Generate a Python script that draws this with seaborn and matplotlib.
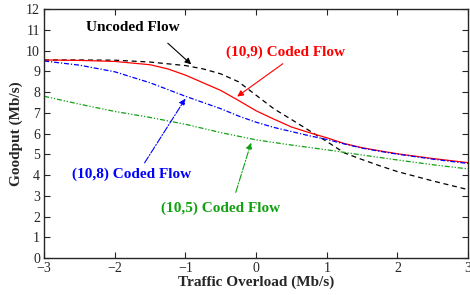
import numpy as np
import pandas as pd
import matplotlib
matplotlib.use("Agg")
import matplotlib.pyplot as plt
import seaborn as sns

# Data
x_unc = [-3, -2.5, -2, -1.5, -1, -0.75, -0.5, -0.25, 0, 0.25, 0.5, 0.75, 1.0, 1.25, 1.5, 1.75, 2.0, 2.5, 3.0]
y_unc = [9.55, 9.55, 9.54, 9.45, 9.28, 9.12, 8.88, 8.5, 7.85, 7.2, 6.68, 6.15, 5.62, 5.07, 4.75, 4.45, 4.17, 3.72, 3.3]

x_c109 = [-3, -2.5, -2, -1.5, -1.25, -1, -0.75, -0.5, -0.25, 0, 0.25, 0.5, 0.75, 1.0, 1.25, 1.5, 1.75, 2.0, 2.5, 3.0]
y_c109 = [9.55, 9.53, 9.48, 9.32, 9.12, 8.82, 8.45, 8.08, 7.6, 7.1, 6.7, 6.32, 6.05, 5.8, 5.52, 5.32, 5.17, 5.03, 4.8, 4.6]

x_c108 = [-3, -2.5, -2, -1.5, -1, -0.5, -0.25, 0, 0.25, 0.5, 0.75, 1.0, 1.25, 1.5, 1.75, 2.0, 2.5, 3.0]
y_c108 = [9.5, 9.3, 8.98, 8.45, 7.8, 7.2, 6.85, 6.55, 6.3, 6.1, 5.9, 5.72, 5.5, 5.3, 5.15, 5.01, 4.77, 4.56]

x_c105 = [-3, -2.5, -2, -1.5, -1, -0.5, 0, 0.5, 1.0, 1.5, 2.0, 2.5, 3.0]
y_c105 = [7.8, 7.42, 7.07, 6.78, 6.45, 6.05, 5.7, 5.45, 5.22, 4.97, 4.73, 4.5, 4.3]

x_ticks = [-3, -2, -1, 0, 1, 2, 3]
y_ticks = list(range(0, 13))

sns.set_style("ticks")
plt.rcParams['font.family'] = ['Liberation Serif', 'DejaVu Serif']

fig = plt.figure(figsize=(4.7, 2.95), dpi=100)
ax = fig.add_axes([0.094, 0.125, 0.902, 0.844])

sns.lineplot(x=x_unc, y=y_unc, ax=ax, color='black', lw=0.9, linestyle=(0, (4, 3)))
sns.lineplot(x=x_c109, y=y_c109, ax=ax, color='red', lw=0.9)
sns.lineplot(x=x_c108, y=y_c108, ax=ax, color='blue', lw=0.9, linestyle=(0, (4, 1.5, 1, 1.5)))
sns.lineplot(x=x_c105, y=y_c105, ax=ax, color='#10a010', lw=0.9, linestyle=(0, (4, 1.5, 1, 1.5, 1, 1.5)))

ax.set_xlim(-3, 3)
ax.set_ylim(0, 12)
ax.set_xticks(x_ticks)
ax.set_xticklabels(['\u22123', '\u22122', '\u22121', '0', '1', '2', '3'])
ax.set_yticks(y_ticks)
ax.tick_params(direction='in', top=True, right=True, labelsize=10, length=4, width=0.8, pad=3)
for s in ax.spines.values():
    s.set_linewidth(1.0)
ax.set_xlabel('Traffic Overload (Mb/s)', fontsize=11, fontweight='bold', labelpad=0)
ax.set_ylabel('Goodput (Mb/s)', fontsize=11, fontweight='bold', labelpad=2)

fs = 11
ax.text(-1.74, 11.13, 'Uncoded Flow', ha='center', va='center', fontsize=fs, fontweight='bold', color='black')
ax.annotate('', xy=(-0.89, 9.25), xytext=(-1.28, 10.45),
            arrowprops=dict(arrowstyle='-|>', color='black', lw=0.8, mutation_scale=9))
ax.text(0.41, 9.93, '(10,9) Coded Flow', ha='center', va='center', fontsize=fs, fontweight='bold', color='red')
ax.annotate('', xy=(-0.30, 7.71), xytext=(0.41, 9.45),
            arrowprops=dict(arrowstyle='-|>', color='red', lw=0.8, mutation_scale=9))
ax.text(-1.77, 4.05, '(10,8) Coded Flow', ha='center', va='center', fontsize=fs, fontweight='bold', color='blue')
ax.annotate('', xy=(-0.98, 7.8), xytext=(-1.6, 4.48),
            arrowprops=dict(arrowstyle='-|>', color='blue', lw=0.8, mutation_scale=9, linestyle='-.'))
ax.text(-0.50, 2.41, '(10,5) Coded Flow', ha='center', va='center', fontsize=fs, fontweight='bold', color='#10a010')
ax.annotate('', xy=(-0.06, 5.69), xytext=(-0.30, 3.04),
            arrowprops=dict(arrowstyle='-|>', color='#10a010', lw=0.8, mutation_scale=9, linestyle='-.'))

fig.savefig('out.png', dpi=100)
